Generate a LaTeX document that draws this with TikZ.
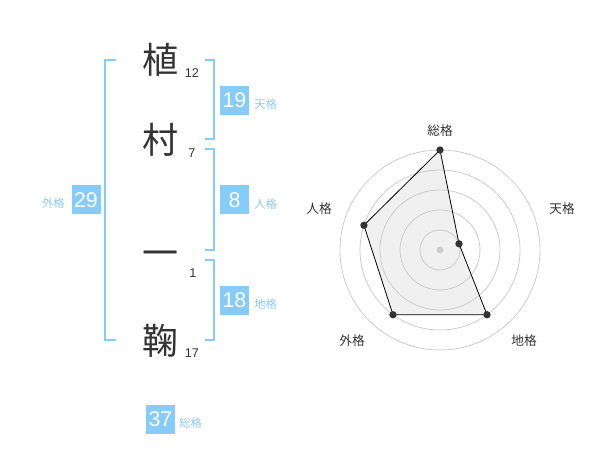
\documentclass[tikz,border=0pt]{standalone}
\usepackage{fontspec}
\setmainfont{Liberation Sans}
\newfontfamily\jpfont{Noto Sans CJK JP}
\definecolor{ink}{HTML}{333333}
\definecolor{sky}{RGB}{134,204,250}
\definecolor{skytext}{RGB}{140,202,242}
\definecolor{ring}{HTML}{CCCCCC}
\definecolor{area}{HTML}{F0F0F0}

\tikzset{
    kanjichar/.style={text=ink, inner sep=0pt, font=\jpfont\fontsize{27}{27}\selectfont},
    strokenum/.style={text=ink, inner sep=0pt, font=\fontsize{9.5}{9.5}\selectfont},
    kakubox/.style={fill=sky, text=white, minimum size=21.75pt, inner sep=0pt, font=\fontsize{16}{16}\selectfont},
    kakulabel/.style={text=skytext, inner sep=0pt, font=\jpfont\fontsize{8.5}{8.5}\selectfont},
    bracketline/.style={draw=sky, line width=1.5pt},
    axislabel/.style={text=ink, inner sep=0pt, font=\jpfont\fontsize{9.5}{9.5}\selectfont},
    ratedot/.style={circle, fill=ink, inner sep=0pt, minimum size=5.5pt},
}

\begin{document}
\begin{tikzpicture}[x=0.75pt, y=-0.75pt]
    \useasboundingbox (0,0) rectangle (600,470);

    % name, one character per line
    \node[kanjichar] at (160,60)  (K1) {植};
    \node[kanjichar] at (160,140) (K2) {村};
    \node[kanjichar] at (160,259) (K3) {一};
    \node[kanjichar] at (160,341) (K4) {鞠};

    \node[strokenum] at (192,73)  (N1) {12};
    \node[strokenum] at (192,153) (N2) {7};
    \node[strokenum] at (193,273) (N3) {1};
    \node[strokenum] at (192,353) (N4) {17};

    % brackets
    \draw[bracketline] (116,60) -- (105,60) -- (105,340) -- (116,340);
    \draw[bracketline] (205,60) -- (214,60) -- (214,139) -- (205,139);
    \draw[bracketline] (205,149) -- (214,149) -- (214,250) -- (205,250);
    \draw[bracketline] (205,260) -- (214,260) -- (214,340) -- (205,340);

    % scores
    \node[kakubox] at (234.5,100.5) (ten) {19};
    \node[kakulabel, anchor=west] at (254,104) (tenL) {天格};
    \node[kakubox] at (234.5,200) (jin) {8};
    \node[kakulabel, anchor=west] at (254,204) (jinL) {人格};
    \node[kakubox] at (234.5,300.5) (chi) {18};
    \node[kakulabel, anchor=west] at (254,304) (chiL) {地格};
    \node[kakubox] at (86,200) (gai) {29};
    \node[kakulabel, anchor=east] at (65,203) (gaiL) {外格};
    \node[kakubox] at (160.5,419.5) (sou) {37};
    \node[kakulabel, anchor=west] at (179,423) (souL) {総格};

    % radar chart
    \begin{scope}[shift={(440,250)}]
        \coordinate (C) at (0,0);
        \coordinate (pSou) at (-90:100);
        \coordinate (pTen) at (-18:20);
        \coordinate (pChi) at (54:80);
        \coordinate (pGai) at (126:80);
        \coordinate (pJin) at (198:80);

        \fill[area] (pSou) -- (pTen) -- (pChi) -- (pGai) -- (pJin) -- cycle;
        \draw[ring, line width=0.6pt] (C) circle (20) circle (40) circle (60) circle (80) circle (100);
        \fill[ring] (C) circle (3.5);
        \draw[black, line width=0.6pt] (pSou) -- (pTen) -- (pChi) -- (pGai) -- (pJin) -- cycle;

        \node[ratedot] at (pSou) (dSou) {};
        \node[ratedot] at (pTen) (dTen) {};
        \node[ratedot] at (pChi) (dChi) {};
        \node[ratedot] at (pGai) (dGai) {};
        \node[ratedot] at (pJin) (dJin) {};

        \node[axislabel] at (0,-119)   (aSou) {総格};
        \node[axislabel] at (122,-41)  (aTen) {天格};
        \node[axislabel] at (84,91)    (aChi) {地格};
        \node[axislabel] at (-88,91)   (aGai) {外格};
        \node[axislabel] at (-121,-41) (aJin) {人格};
    \end{scope}
\end{tikzpicture}
\end{document}
